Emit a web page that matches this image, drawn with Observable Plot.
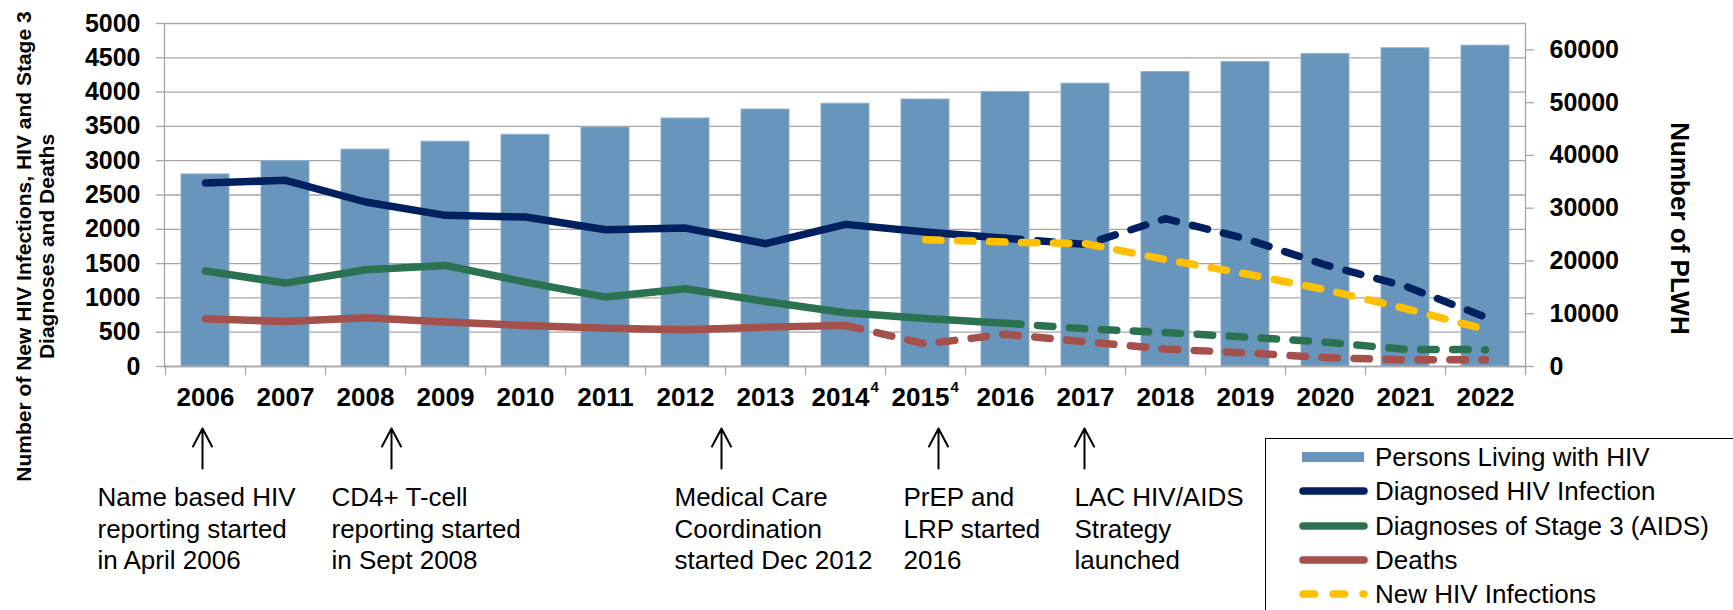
<!DOCTYPE html>
<html><head><meta charset="utf-8">
<script src="https://cdn.jsdelivr.net/npm/d3@7"></script>
<script src="https://cdn.jsdelivr.net/npm/@observablehq/plot@0.6"></script>
<style>
html,body{margin:0;padding:0;background:#fff;overflow:hidden;}
#wrap{position:relative;width:1733px;height:610px;font-family:"Liberation Sans",Arial,sans-serif;}
#legend{position:absolute;left:1265px;top:438px;width:520px;height:230px;border:1.5px solid #000;background:#fff;box-sizing:border-box;}
.item{position:absolute;left:0;height:34px;display:flex;align-items:center;font-size:26px;color:#000;white-space:nowrap;}
.item svg{position:absolute;left:0;top:0;}
.item span{position:absolute;left:109px;top:50%;transform:translateY(-50%);}
</style></head>
<body><div id="wrap"><div id="chart"></div><div id="legend"></div></div>
<script>
// ---------- data ----------
const years = ["2006","2007","2008","2009","2010","2011","2012","2013","2014⁴","2015⁴","2016","2017","2018","2019","2020","2021","2022"];
const plwh = [36400, 38900, 41100, 42600, 43900, 45300, 47000, 48700, 49800, 50600, 52000, 53600, 55800, 57700, 59200, 60300, 60800];
const diagnosed = [2675, 2714, 2398, 2203, 2179, 1994, 2018, 1790, 2072, 1960, 1870, 1780, 2155, 1863, 1480, 1170, 720];
const stage3 = [1391, 1216, 1410, 1474, 1230, 1012, 1133, 948, 783, 700, 632, 550, 495, 430, 354, 250, 245];
const deaths = [696, 657, 710, 647, 598, 559, 535, 574, 598, 330, 470, 360, 255, 199, 130, 97, 97];
const newInfections = [null, null, null, null, null, null, null, null, null, 1848, 1814, 1790, 1560, 1352, 1119, 845, 540];
const leftTicks = [0, 500, 1000, 1500, 2000, 2500, 3000, 3500, 4000, 4500, 5000];
const rightTicks = [0, 10000, 20000, 30000, 40000, 50000, 60000];
const seriesNames = ["Persons Living with HIV", "Diagnosed HIV Infection", "Diagnoses of Stage 3 (AIDS)", "Deaths", "New HIV Infections"];
// first year of dashed (projected) part for each line series
const dashedFrom = {diagnosed: "2016", stage3: "2016", deaths: "2014⁴", newInf: "2015⁴"};
const annotYears = ["2006", "2008", "2012", "2015⁴", "2017"];
const annotTexts = [
  "Name based HIV\nreporting started\nin April 2006",
  "CD4+ T-cell\nreporting started\nin Sept 2008",
  "Medical Care\nCoordination\nstarted Dec 2012",
  "PrEP and\nLRP started\n2016",
  "LAC HIV/AIDS\nStrategy\nlaunched"
];
const leftTitle = "Number of New HIV Infections, HIV and Stage 3\nDiagnoses and Deaths";
const rightTitle = "Number of PLWH";

// ---------- layout / style ----------
const W = 1733, H = 610, ML = 164, MR = 208, MT = 23, MB = 244;
const step = (W - ML - MR) / years.length;
const RATIO = 65000 / 5000;
const GRID = "#a6a6a6";
const colors = {plwh: "#6895bb", diagnosed: "#002060", stage3: "#2b7350", deaths: "#a5504a", newInf: "#ffc000"};
const LW = 7.5, DASH = "15.5,16.5";
const annotArrowDx = [-3, 26, 36, 13, -1];
const annotTextDx = [-108, -34, -11, -22, -11];
const SUP = "⁴";
const plainYears = years.filter(y => !y.includes(SUP));
const supYears = years.filter(y => y.includes(SUP));

const rows = years.map((year, i) => ({year, plwh: plwh[i], diagnosed: diagnosed[i], stage3: stage3[i], deaths: deaths[i], newInf: newInfections[i]}));

function parts(key) {
  const k = years.indexOf(dashedFrom[key]);
  const pts = rows.map((r, i) => ({year: r.year, v: r[key], i})).filter(d => d.v != null);
  return {solid: pts.filter(d => d.i <= k), dashed: pts.filter(d => d.i >= k)};
}

const lineShape = {draw(ctx, l) { ctx.moveTo(0, 0); ctx.lineTo(0, -l); }};
const arrowShape = {draw(ctx, l) { ctx.moveTo(0, 0); ctx.lineTo(0, -l); ctx.moveTo(-9.5, -l + 18); ctx.lineTo(0, -l); ctx.lineTo(9.5, -l + 18); }};

const xLabel = {tickSize: 0, tickPadding: 21, fill: "black", fontSize: 26, fontWeight: "bold", label: null};
const marks = [
  Plot.gridY(leftTicks, {stroke: GRID, strokeOpacity: 1, strokeWidth: 1.3}),
  Plot.barY(rows, {x: "year", y: d => d.plwh / RATIO, fill: colors.plwh, stroke: "#90b0cd", strokeWidth: 1}),
  Plot.frame({anchor: "left", stroke: GRID, strokeWidth: 1.3}),
  Plot.frame({anchor: "right", stroke: GRID, strokeWidth: 1.3}),
  Plot.ruleY([0], {stroke: GRID, strokeWidth: 1.3}),
  Plot.vector(years, {x: d => d, frameAnchor: "bottom", dx: -step / 2, length: 8, rotate: 180, anchor: "start", shape: lineShape, stroke: GRID, strokeWidth: 1.3}),
  Plot.vector([years[years.length - 1]], {x: d => d, frameAnchor: "bottom", dx: step / 2, length: 8, rotate: 180, anchor: "start", shape: lineShape, stroke: GRID, strokeWidth: 1.3}),
  Plot.axisY(leftTicks, {anchor: "left", tickSize: 8, tickPadding: 16, stroke: GRID, strokeWidth: 1.3, fill: "black", fontSize: 25, fontWeight: "bold", label: null, tickFormat: d => String(d)}),
  Plot.axisY(rightTicks.map(v => v / RATIO), {anchor: "right", tickSize: 8, tickPadding: 16, stroke: GRID, strokeWidth: 1.3, fill: "black", fontSize: 25, fontWeight: "bold", label: null, tickFormat: d => String(Math.round(d * RATIO))}),
  Plot.axisX(plainYears, xLabel),
  Plot.axisX(supYears, {...xLabel, dx: -5, tickFormat: d => d.replace(SUP, "")}),
  Plot.text(supYears, {x: d => d, text: () => "4", frameAnchor: "bottom", dx: 25, dy: 15, textAnchor: "start", lineAnchor: "top", fontSize: 15, fontWeight: "bold", fill: "black"})
];

for (const key of ["diagnosed", "stage3", "deaths", "newInf"]) {
  const p = parts(key);
  const common = {x: "year", y: "v", stroke: colors[key], strokeWidth: LW, strokeLinecap: "round", strokeLinejoin: "round"};
  if (p.solid.length > 1) marks.push(Plot.line(p.solid, common));
  marks.push(Plot.line(p.dashed, {...common, strokeDasharray: DASH}));
}

annotYears.forEach((year, i) => {
  marks.push(Plot.vector([year], {x: d => d, frameAnchor: "bottom", dx: annotArrowDx[i], dy: 102, length: 40, anchor: "start", rotate: 0, shape: arrowShape, stroke: "black", strokeWidth: 2}));
  marks.push(Plot.text([annotTexts[i]], {x: () => year, text: d => d, frameAnchor: "bottom", dx: annotTextDx[i], dy: 117.5, textAnchor: "start", lineAnchor: "top", lineHeight: 1.21, fontSize: 26, fill: "black"}));
});

const midY = MT + (H - MT - MB) / 2;
marks.push(Plot.text([leftTitle], {text: d => d, frameAnchor: "left", rotate: -90, dx: 34.5 - ML, dy: 246 - midY, textAnchor: "middle", lineAnchor: "middle", lineHeight: 1.1, fontSize: 21, fontWeight: "bold", fill: "black"}));
marks.push(Plot.text([rightTitle], {text: d => d, frameAnchor: "right", rotate: 90, dx: 1679 - (W - MR), dy: 228 - midY, textAnchor: "middle", lineAnchor: "middle", fontSize: 26, fontWeight: "bold", fill: "black"}));

const chart = Plot.plot({
  width: W, height: H,
  marginLeft: ML, marginRight: MR, marginTop: MT, marginBottom: MB,
  style: {fontFamily: "'Liberation Sans', Arial, sans-serif", background: "white", overflow: "visible"},
  x: {type: "band", domain: years, paddingInner: 0.4, paddingOuter: 0.2, axis: null},
  y: {domain: [0, 5000], axis: null},
  marks
});
document.getElementById("chart").appendChild(chart);

// ---------- legend ----------
const legend = document.getElementById("legend");
const legendKeys = ["plwh", "diagnosed", "stage3", "deaths", "newInf"];
legendKeys.forEach((key, i) => {
  const item = document.createElement("div");
  item.className = "item";
  item.style.top = (1 + 34.25 * i) + "px";
  item.style.width = "500px";
  let sw;
  if (key === "plwh") {
    sw = `<svg width="110" height="34"><rect x="36" y="12" width="62" height="10" fill="${colors.plwh}"/></svg>`;
  } else {
    const dash = key === "newInf" ? ` stroke-dasharray="11.5,18.5"` : "";
    sw = `<svg width="110" height="34"><line x1="37" x2="98" y1="17" y2="17" stroke="${colors[key]}" stroke-width="${LW}" stroke-linecap="round"${dash}/></svg>`;
  }
  item.innerHTML = sw + `<span>${seriesNames[i]}</span>`;
  legend.appendChild(item);
});
</script>
</body></html>
